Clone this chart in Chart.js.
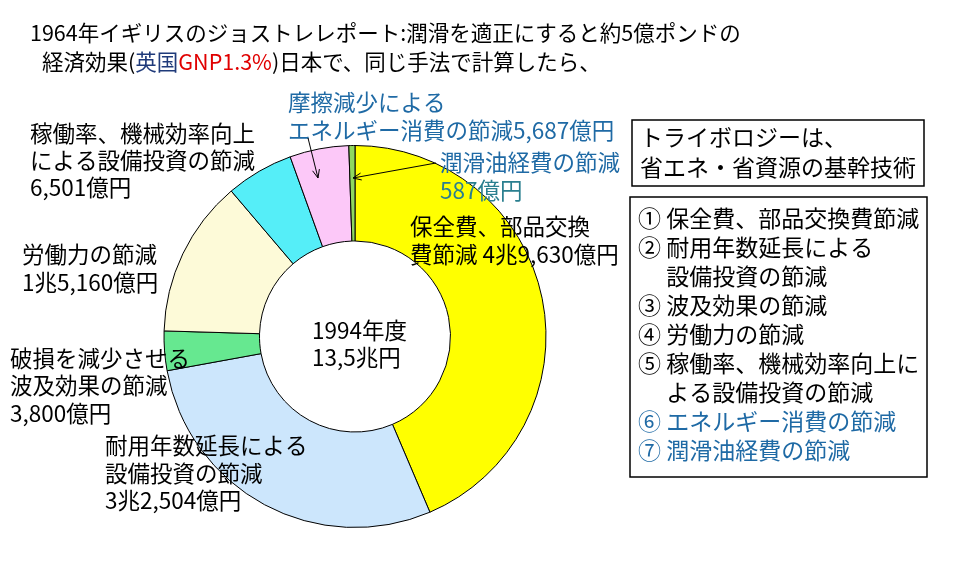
<!DOCTYPE html>
<html>
<head>
<meta charset="utf-8">
<script src="https://cdn.jsdelivr.net/npm/chart.js@4.4.1/dist/chart.umd.min.js"></script>
<style>
  html, body { margin: 0; padding: 0; background: #fff; }
  #wrap { width: 960px; height: 563px; position: relative; }
</style>
</head>
<body>
<div id="wrap"><canvas id="c" width="960" height="563"></canvas></div>
<script>
// 節減効果の内訳（億円）
var categories = [
    '保全費、部品交換費節減',
    '耐用年数延長による設備投資の節減',
    '波及効果の節減',
    '労働力の節減',
    '稼働率、機械効率向上による設備投資の節減',
    'エネルギー消費の節減',
    '潤滑油経費の節減'
];
var values = [49630, 32504, 3800, 15160, 6501, 5687, 587];
var colors = ['#ffff00', '#cce6fc', '#66e890', '#fdfad8', '#55eef8', '#fcc8f8', '#8fd860'];

var FONT = '"Noto Sans CJK JP", "Noto Sans", sans-serif';
var BLUE = '#1f6aa5';

// 吹き出し文字 [text, x, y, color]
var labels = [
    ['摩擦減少による', 288, 102, BLUE],
    ['エネルギー消費の節減5,687億円', 288, 130, BLUE],
    ['稼働率、機械効率向上', 30, 133, '#000'],
    ['による設備投資の節減', 30, 160, '#000'],
    ['6,501億円', 30, 187, '#000'],
    ['潤滑油経費の節減', 440, 162, BLUE],
    ['587億円', 440, 190, '#2a7f8f'],
    ['保全費、部品交換', 410, 226, '#000'],
    ['費節減 4兆9,630億円', 410, 254, '#000'],
    ['労働力の節減', 22, 254, '#000'],
    ['1兆5,160億円', 22, 282, '#000'],
    ['1994年度', 312, 330, '#000'],
    ['13,5兆円', 312, 357, '#000'],
    ['破損を減少させる', 10, 358, '#000'],
    ['波及効果の節減', 10, 385, '#000'],
    ['3,800億円', 10, 413, '#000'],
    ['耐用年数延長による', 105, 445, '#000'],
    ['設備投資の節減', 105, 473, '#000'],
    ['3兆2,504億円', 105, 500, '#000']
];

var boxText = ['トライボロジーは、', '省エネ・省資源の基幹技術'];
var listText = [
    ['① 保全費、部品交換費節減', '#000'],
    ['② 耐用年数延長による', '#000'],
    ['　 設備投資の節減', '#000'],
    ['③ 波及効果の節減', '#000'],
    ['④ 労働力の節減', '#000'],
    ['⑤ 稼働率、機械効率向上に', '#000'],
    ['　 よる設備投資の節減', '#000'],
    ['⑥ エネルギー消費の節減', BLUE],
    ['⑦ 潤滑油経費の節減', BLUE]
];

function arrow(ctx, x1, y1, x2, y2) {
    ctx.beginPath();
    ctx.moveTo(x1, y1);
    ctx.lineTo(x2, y2);
    var a = Math.atan2(y2 - y1, x2 - x1);
    ctx.moveTo(x2 - 9 * Math.cos(a - 0.4), y2 - 9 * Math.sin(a - 0.4));
    ctx.lineTo(x2, y2);
    ctx.lineTo(x2 - 9 * Math.cos(a + 0.4), y2 - 9 * Math.sin(a + 0.4));
    ctx.stroke();
}

var annotations = {
    id: 'annotations',
    afterDraw: function(chart) {
        var ctx = chart.ctx;
        ctx.save();
        ctx.textBaseline = 'middle';
        ctx.textAlign = 'left';
        ctx.font = '21.5px ' + FONT;

        // 見出し
        ctx.fillStyle = '#000';
        ctx.fillText('1964年イギリスのジョストレレポート:潤滑を適正にすると約5億ポンドの', 30, 33);
        var parts = [['経済効果(', '#000'], ['英国', '#1f3a7a'], ['GNP1.3%', '#e00000'], [')日本で、同じ手法で計算したら、', '#000']];
        var x = 42;
        parts.forEach(function(p) {
            ctx.fillStyle = p[1];
            ctx.fillText(p[0], x, 62);
            x += ctx.measureText(p[0]).width;
        });

        ctx.font = '22.5px ' + FONT;
        labels.forEach(function(l) {
            ctx.fillStyle = l[3];
            ctx.fillText(l[0], l[1], l[2]);
        });

        ctx.strokeStyle = '#000';
        ctx.lineWidth = 1;
        arrow(ctx, 308, 138, 318, 178);
        arrow(ctx, 436, 163, 353, 178);

        // 枠
        ctx.lineWidth = 1.5;
        ctx.strokeRect(632, 120, 292, 66);
        ctx.strokeRect(630, 197, 297, 280);
        ctx.font = '23px ' + FONT;
        ctx.fillStyle = '#000';
        ctx.fillText(boxText[0], 640, 137);
        ctx.fillText(boxText[1], 640, 167);
        listText.forEach(function(t, i) {
            ctx.fillStyle = t[1];
            ctx.fillText(t[0], 638, 218 + i * 29);
        });
        ctx.restore();
    }
};

new Chart(document.getElementById('c'), {
    type: 'doughnut',
    data: {
        labels: categories,
        datasets: [{
            data: values,
            backgroundColor: colors,
            borderColor: '#000',
            borderWidth: 1
        }]
    },
    options: {
        responsive: false,
        animation: false,
        cutout: '50%',
        rotation: 0,
        layout: { padding: { left: 162, right: 412, top: 145, bottom: 35 } },
        plugins: {
            legend: { display: false },
            tooltip: { enabled: false },
            title: { display: false }
        }
    },
    plugins: [annotations]
});
</script>
</body>
</html>
